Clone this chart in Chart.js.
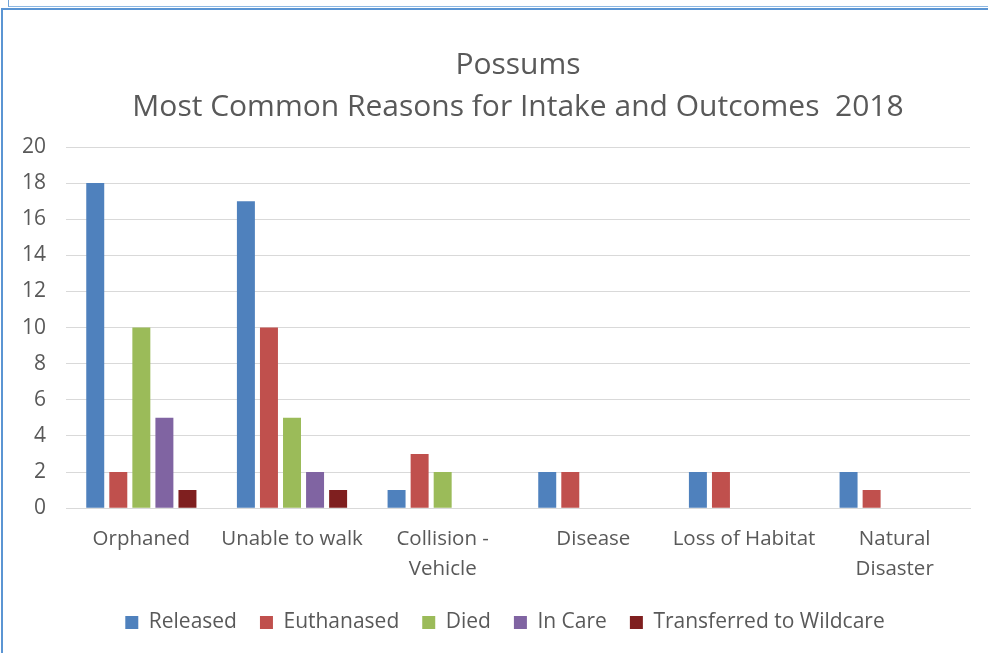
<!DOCTYPE html>
<html>
<head>
<meta charset="utf-8">
<script src="https://cdn.jsdelivr.net/npm/chart.js@4/dist/chart.umd.min.js"></script>
<style>
  html, body { margin: 0; padding: 0; background: #fff; }
  body { width: 988px; height: 653px; position: relative; overflow: hidden; }
  #outer { position: absolute; left: 8px; top: -4px; width: 990px; height: 11px;
           border-left: 1px solid #6fa3d8; border-bottom: 1px solid #8db8e3; box-sizing: border-box; }
  #frame { position: absolute; left: 1px; top: 8px; width: 1000px; height: 660px;
           border: 2px solid #5b95d3; box-sizing: border-box; }
  #wrap { position: absolute; left: 0; top: 0; width: 988px; height: 653px; }
</style>
</head>
<body>
<div id="outer"></div>
<div id="frame"></div>
<div id="wrap"><canvas id="chart" width="988" height="653"></canvas></div>
<script>
// Intake reasons and the outcome counts for each one
const categories = ['Orphaned', 'Unable to walk', ['Collision -', 'Vehicle'], 'Disease', 'Loss of Habitat', ['Natural', 'Disaster']];
const released    = [18, 17, 1, 2, 2, 2];
const euthanased  = [2, 10, 3, 2, 2, 1];
const died        = [10, 5, 2, 0, 0, 0];
const inCare      = [5, 2, 0, 0, 0, 0];
const transferred = [1, 1, 0, 0, 0, 0];
const seriesNames = ['Released', 'Euthanased', 'Died', 'In Care', 'Transferred to Wildcare'];
const seriesColors = ['#4f81bd', '#c0504d', '#9bbb59', '#8064a2', '#7f1f1f'];
const titleLines = ['Possums', 'Most Common Reasons for Intake and Outcomes  2018'];

const FONT = '"Open Sans", "Noto Sans", sans-serif';
const TEXT = '#595959';

const seriesData = [released, euthanased, died, inCare, transferred];

// Nudge the legend row a little to the left of the plot-area centre
const legendShift = {
  id: 'legendShift',
  afterLayout(chart) {
    const lg = chart.legend;
    if (lg) { lg.left -= 13; lg.right -= 13; }
  }
};

new Chart(document.getElementById('chart'), {
  type: 'bar',
  data: {
    labels: categories,
    datasets: seriesData.map((d, i) => ({
      label: seriesNames[i],
      data: d,
      backgroundColor: seriesColors[i],
      borderWidth: 0,
      categoryPercentage: 0.765,
      barPercentage: 0.78
    }))
  },
  plugins: [legendShift],
  options: {
    responsive: false,
    animation: false,
    layout: { padding: { left: 2, right: 18, top: 44, bottom: 10 } },
    plugins: {
      title: {
        display: true,
        fullSize: false,
        text: titleLines,
        color: TEXT,
        font: { family: FONT, size: 30, weight: 'normal', lineHeight: 1.4 },
        padding: { top: 0, bottom: 19 }
      },
      legend: {
        position: 'bottom',
        fullSize: false,
        labels: {
          color: TEXT,
          font: { family: FONT, size: 21 },
          boxWidth: 13,
          boxHeight: 13,
          padding: 23
        }
      },
      tooltip: { enabled: false }
    },
    scales: {
      x: {
        grid: { display: false, drawTicks: false },
        border: { display: true, color: '#d9d9d9', width: 1 },
        ticks: { color: TEXT, font: { family: FONT, size: 20.5, lineHeight: 1.46 }, padding: 16, maxRotation: 0, autoSkip: false },
        // tighten the gap between the category labels and the legend
        afterFit: (scale) => { scale.height -= 11; }
      },
      y: {
        min: 0, max: 20,
        grid: { color: '#d9d9d9', lineWidth: 1, drawTicks: false },
        border: { display: false },
        ticks: { stepSize: 2, color: TEXT, font: { family: FONT, size: 21 }, padding: 20 }
      }
    }
  }
});
</script>
</body>
</html>
